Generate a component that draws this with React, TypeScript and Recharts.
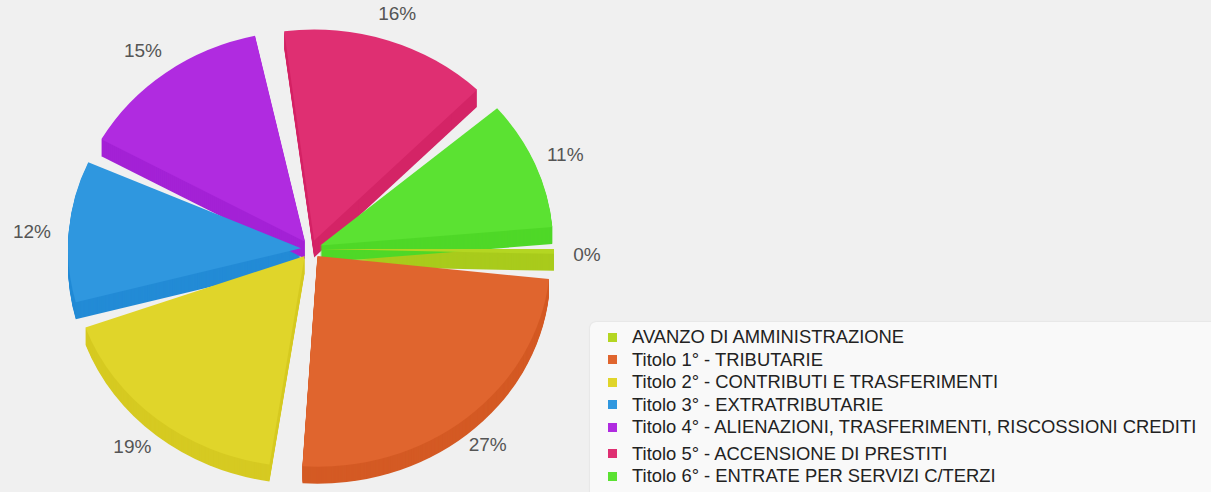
import { PieChart, Pie, Sector, Legend } from "recharts";

const categories = [
  "AVANZO DI AMMINISTRAZIONE",
  "Titolo 1° - TRIBUTARIE",
  "Titolo 2° - CONTRIBUTI E TRASFERIMENTI",
  "Titolo 3° - EXTRATRIBUTARIE",
  "Titolo 4° - ALIENAZIONI, TRASFERIMENTI, RISCOSSIONI CREDITI",
  "Titolo 5° - ACCENSIONE DI PRESTITI",
  "Titolo 6° - ENTRATE PER SERVIZI C/TERZI",
];
const shares = [0.4, 27, 19, 12, 15, 16, 11];

const topColors = ["#b4d622", "#e0652e", "#e0d52a", "#2f97df", "#b02be0", "#df2f72", "#5be232"];
const sideColors = ["#a9cb1c", "#d45a24", "#d6ca22", "#238bd6", "#a422d6", "#d42466", "#4fd828"];

const data = categories.map((name, i) => ({ name, value: shares[i] }));

const CX = 311;
const CY = 249;
const R = 233;
const TILT = 0.905; // vertical squash of the 3d disc
const EXPLODE = 10;
const DEPTH = 17;
const LABEL_R = 278;
const RAD = Math.PI / 180;

function explode(mid: number) {
  return {
    dx: EXPLODE * Math.cos(-mid * RAD),
    dy: EXPLODE * Math.sin(-mid * RAD) * TILT,
  };
}

function squash(cx: number, cy: number, dx: number, dy: number) {
  return `translate(${dx} ${dy}) translate(${cx} ${cy}) scale(1 ${TILT}) translate(${-cx} ${-cy})`;
}

// side walls of each slice, drawn first
function SideLabel(props: any) {
  const { cx, cy, outerRadius, startAngle, endAngle, midAngle, index } = props;
  const { dx, dy } = explode(midAngle);
  const layers = [];
  for (let t = DEPTH; t >= 1; t--) {
    layers.push(
      <g key={t} transform={squash(cx, cy, dx, dy + t)}>
        <Sector
          cx={cx}
          cy={cy}
          innerRadius={0}
          outerRadius={outerRadius}
          startAngle={startAngle}
          endAngle={endAngle}
          fill={sideColors[index]}
          stroke="none"
        />
      </g>
    );
  }
  return <g>{layers}</g>;
}

// top faces + percentage text
function TopLabel(props: any) {
  const { cx, cy, outerRadius, startAngle, endAngle, midAngle, index, value } = props;
  const { dx, dy } = explode(midAngle);
  const lx = cx - 2 + LABEL_R * Math.cos(-midAngle * RAD);
  const ly = cy + 3 + LABEL_R * Math.sin(-midAngle * RAD) * TILT;
  return (
    <g>
      <g transform={squash(cx, cy, dx, dy)}>
        <Sector
          cx={cx}
          cy={cy}
          innerRadius={0}
          outerRadius={outerRadius}
          startAngle={startAngle}
          endAngle={endAngle}
          fill={topColors[index]}
          stroke="none"
        />
      </g>
      <text
        x={lx}
        y={ly}
        textAnchor="middle"
        dominantBaseline="central"
        fontFamily="Liberation Sans, Arial, sans-serif"
        fontSize={19}
        fill="#555"
      >
        {`${Math.round(value)}%`}
      </text>
    </g>
  );
}

function LegendBox() {
  return (
    <div
      style={{
        background: "#f9f9f9",
        borderTopLeftRadius: 6,
        boxShadow: "0 0 2px rgba(0,0,0,0.12)",
        padding: "4px 0 0 18px",
        width: 640,
        height: 180,
        boxSizing: "border-box",
        fontFamily: "Liberation Sans, Arial, sans-serif",
        fontSize: 18.4,
        color: "#222",
      }}
    >
      {categories.map((name, i) => (
        <div
          key={name}
          style={{
            display: "flex",
            alignItems: "center",
            height: 22.5,
            marginTop: i === 5 ? 4 : 0,
            whiteSpace: "nowrap",
          }}
        >
          <span style={{ width: 9, height: 9, background: topColors[i], marginRight: 15, flex: "none" }} />
          <span>{name}</span>
        </div>
      ))}
    </div>
  );
}

export default function App() {
  return (
    <div
      style={{
        position: "absolute",
        left: 0,
        top: 0,
        width: 1211,
        height: 492,
        background: "#f0f0f0",
        overflow: "hidden",
      }}
    >
      <PieChart width={1211} height={492} margin={{ top: 0, right: 0, bottom: 0, left: 0 }}>
        <Pie
          data={data}
          dataKey="value"
          nameKey="name"
          cx={CX}
          cy={CY}
          outerRadius={R}
          startAngle={0}
          endAngle={-360}
          paddingAngle={5}
          fill="transparent"
          stroke="none"
          label={SideLabel}
          labelLine={false}
          legendType="none"
          isAnimationActive={false}
        />
        <Pie
          data={data}
          dataKey="value"
          nameKey="name"
          cx={CX}
          cy={CY}
          outerRadius={R}
          startAngle={0}
          endAngle={-360}
          paddingAngle={5}
          fill="transparent"
          stroke="none"
          label={TopLabel}
          labelLine={false}
          isAnimationActive={false}
        />
        <Legend
          content={<LegendBox />}
          wrapperStyle={{ position: "absolute", left: 590, top: 322, width: 640 }}
        />
      </PieChart>
    </div>
  );
}
